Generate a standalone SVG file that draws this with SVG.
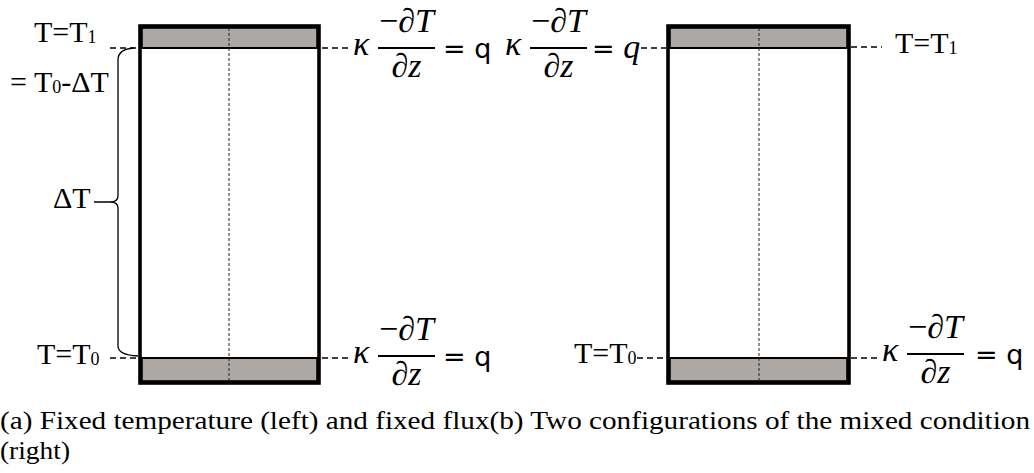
<svg xmlns="http://www.w3.org/2000/svg" width="1034" height="473" viewBox="0 0 1034 473">
<style>
.box{fill:#ffffff;stroke:#000;stroke-width:3.6}
.band{fill:#aca8a6;stroke:#000;stroke-width:2}
.axis{stroke:#222;stroke-width:1;stroke-dasharray:3,2;fill:none}
.dash{stroke:#000;stroke-width:1.3;stroke-dasharray:6,4;fill:none}
.lbl{font-family:"Liberation Serif","DejaVu Serif",serif;font-size:30px;fill:#000}
.sub{font-size:18px}
.math{font-family:"Liberation Serif","DejaVu Serif",serif;font-size:34px;fill:#000}
.it{font-style:italic}
.up{font-family:"DejaVu Sans","Liberation Sans",sans-serif;font-size:27px}
.bar{stroke:#000;stroke-width:2.2}
.cap{font-family:"Liberation Serif","DejaVu Serif",serif;font-size:26px;fill:#000}
.brace{fill:none;stroke:#000;stroke-width:1.3}
</style>
<defs>
<g id="frac">
<text class="math it" x="-25" y="7">κ</text>
<line class="bar" x1="0" y1="0" x2="57" y2="0"/>
<text class="math" x="28.5" y="-16" text-anchor="middle">−<tspan class="it">∂T</tspan></text>
<text class="math it" x="28.5" y="29" text-anchor="middle">∂z</text>
</g>
</defs>
<g id="left-column">
<rect class="box" x="140" y="26" width="179" height="357"/>
<rect class="band" x="141.8" y="27.8" width="175.4" height="20.2"/>
<rect class="band" x="141.8" y="358" width="175.4" height="23.2"/>
<line class="axis" x1="229" y1="28" x2="229" y2="381"/>
</g>
<g id="right-column">
<rect class="box" x="668" y="26" width="181" height="357"/>
<rect class="band" x="669.8" y="27.8" width="177.4" height="20.2"/>
<rect class="band" x="669.8" y="358" width="177.4" height="23.2"/>
<line class="axis" x1="759" y1="28" x2="759" y2="381"/>
</g>
<g id="connectors">
<line class="dash" x1="110" y1="48" x2="136" y2="48"/>
<line class="dash" x1="322" y1="48" x2="352" y2="48"/>
<line class="dash" x1="110" y1="358" x2="136" y2="358"/>
<line class="dash" x1="322" y1="358" x2="352" y2="358"/>
<line class="dash" x1="641" y1="48" x2="666" y2="48"/>
<line class="dash" x1="851" y1="47" x2="882" y2="47"/>
<line class="dash" x1="637" y1="358" x2="666" y2="358"/>
<line class="dash" x1="851" y1="358" x2="880" y2="358"/>
<path class="brace" d="M 134,48 Q 118,49 118,60 L 118,196 Q 118,202 110,202 L 94,202 M 110,202 Q 118,202 118,208 L 118,346 Q 118,355 138,356"/>
</g>
<g id="label-left-top">
<text class="lbl" x="34" y="42">T=T<tspan class="sub" dy="1">1</tspan></text>
<text class="lbl" x="10" y="92">= T<tspan class="sub" dy="1">0</tspan><tspan dy="-1">-ΔT</tspan></text>
</g>
<g id="label-deltaT">
<text class="lbl" x="53" y="208">ΔT</text>
</g>
<g id="label-left-bottom">
<text class="lbl" x="37" y="364">T=T<tspan class="sub" dy="1">0</tspan></text>
</g>
<g id="flux-left-top">
<use href="#frac" x="378" y="48"/>
<text class="math up" x="443" y="58">= q</text>
</g>
<g id="flux-left-bottom">
<use href="#frac" x="378" y="356"/>
<text class="math up" x="443" y="366">= q</text>
</g>
<g id="flux-right-top">
<use href="#frac" x="530" y="48"/>
<text class="math" x="592" y="58"><tspan class="up">=</tspan> <tspan class="it">q</tspan></text>
</g>
<g id="label-right-top">
<text class="lbl" x="895" y="53">T=T<tspan class="sub" dy="1">1</tspan></text>
</g>
<g id="label-right-bottom">
<text class="lbl" x="574" y="363">T=T<tspan class="sub" dy="1">0</tspan></text>
</g>
<g id="flux-right-bottom">
<use href="#frac" x="907" y="354"/>
<text class="math up" x="975" y="364">= q</text>
</g>
<g id="caption">
<text class="cap" x="0" y="429" textLength="1030" lengthAdjust="spacingAndGlyphs">(a) Fixed temperature (left) and fixed flux(b) Two configurations of the mixed condition</text>
<text class="cap" x="0" y="459" textLength="70" lengthAdjust="spacingAndGlyphs">(right)</text>
</g>
</svg>
